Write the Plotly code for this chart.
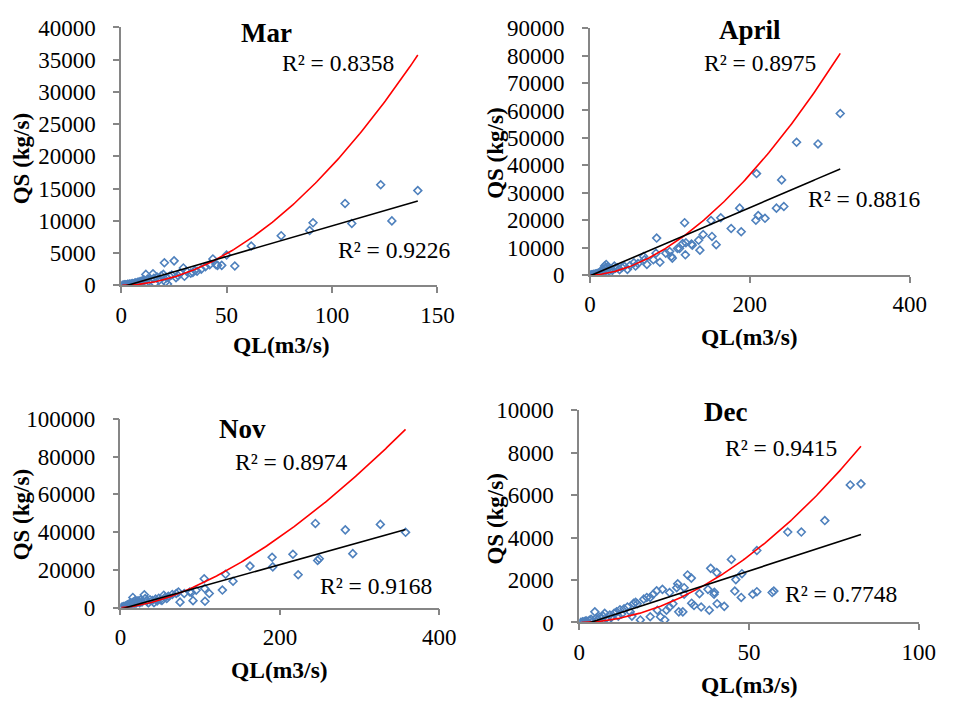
import numpy as np
import plotly.graph_objects as go

# ---------------- data ----------------
mar_ql = [0.5, 1, 1.5, 2, 2.5, 3, 3.5, 4, 4.5, 5, 5.5, 6, 6.5, 7, 7.5, 8, 8.5, 9, 9.5, 10, 10.5, 11,
          11.7, 12.5, 13, 14, 15.1, 15.5, 16, 17, 18, 19, 20, 20.5, 21, 21.5, 22, 23, 24, 25.1, 26, 27,
          28, 29.5, 30, 31, 33, 34, 35, 36, 38, 40, 42, 43.5, 45, 45.7, 47.7, 50, 53.9, 61.7, 75.9,
          89.4, 91, 106.2, 109.4, 123.1, 128.4, 140.7]
mar_qs = [20, 50, 80, 100, 60, 150, 120, 200, 180, 250, 300, 200, 350, 400, 300, 500, 450, 600, 400, 700, 550, 800,
          1700, 1000, 600, 900, 1800, 1100, 300, 1300, 800, 1500, 1700, 3500, 500, 1200, 200, 1400, 1600, 3800, 1200, 1500,
          1900, 2700, 1400, 2200, 1900, 2000, 2300, 2200, 2500, 2900, 3200, 4100, 3200, 3100, 3100, 4700, 3000, 6100, 7700,
          8500, 9700, 12700, 9600, 15600, 10000, 14700]

apr_ql = [1, 2, 3, 4, 5, 6, 7, 8, 9, 10, 11, 12, 13, 14, 15, 16, 17, 18.3, 19, 20.3, 21, 22, 24, 26, 28, 30.5,
          32, 34.6, 37, 40, 43, 46.8, 50, 55, 57, 60, 67.1, 68, 71.2, 79.3, 82.6, 83.4, 87.5, 94.8, 99.7, 101.8,
          103, 109.5, 112, 116, 118.4, 119.3, 120, 127, 128, 135.9, 137.5, 141.6, 151.4, 152.6, 157.9, 163.6,
          176.6, 187.2, 189.2, 207.5, 208.3, 210.4, 218.9, 233.2, 239.7, 242.5, 258.4, 285.2, 313]
apr_qs = [50, 100, 80, 200, 300, 250, 400, 500, 350, 700, 600, 900, 1200, 800, 1500, 2100, 1000, 3300, 2500, 3900,
          1800, 3000, 1500, 2200, 1700, 3300, 2500, 2700, 2000, 2800, 3200, 2100, 3500, 4500, 3300, 4200, 6800, 5600,
          3900, 5600, 8000, 13500, 4700, 8000, 8600, 6800, 6200, 9700, 9700, 11500, 19100, 7400, 11800, 11300, 10900,
          12700, 9100, 14800, 19900, 14100, 11100, 20900, 17000, 24400, 15800, 20000, 37000, 21700, 20700, 24400,
          34700, 25000, 48400, 47800, 58900]

nov_ql = [1, 2, 3, 4, 5, 6, 7, 8, 9, 10, 11, 12, 13, 14, 15.5, 16, 17, 18, 19, 20, 22, 24, 25, 27, 29.9, 31, 33,
          35, 37, 40, 42, 44, 46, 48, 50, 52, 54.3, 56, 58, 60, 65, 70, 72.7, 74.7, 80, 87, 89, 91, 95, 105,
          105.7, 106, 111.4, 127.8, 131.8, 141.2, 162.4, 190.2, 191, 216.3, 222.9, 244.5, 247.3, 249.4, 282,
          291.4, 326, 357.6]
nov_qs = [100, 300, 200, 600, 500, 900, 700, 1200, 1500, 1000, 2000, 1600, 2500, 1800, 5400, 3000, 2200, 3500,
          2000, 2800, 3600, 2500, 4000, 3000, 6800, 4800, 3500, 2500, 4200, 3800, 2600, 4500, 3500, 5000, 4200,
          3800, 6600, 5500, 4800, 6000, 7000, 7500, 8300, 2900, 7500, 8300, 8000, 3700, 9200, 15300, 10100, 3400,
          7500, 9300, 17700, 14000, 22000, 26700, 21600, 28300, 17400, 44600, 25000, 25900, 41200, 28600, 44100,
          39900]

dec_ql = [0.5, 1, 1.5, 2, 2.5, 3, 3.5, 4, 4.6, 5, 5.5, 6, 6.5, 7, 7.5, 8, 8.5, 9, 9.5, 10.3, 11, 11.5, 12, 12.5,
          13.2, 14.2, 15, 15.5, 16, 16.6, 17.1, 18, 19, 19.9, 20.9, 20.9, 21.8, 22.8, 23, 23.9, 24.5, 25.2, 25.7,
          26.6, 26.6, 27.6, 28.7, 29, 29.3, 30.5, 30.9, 30.9, 31.9, 33, 33.1, 33.8, 35.4, 35.9, 37.9, 38.3, 38.7,
          39.7, 39.8, 40.5, 40.6, 42.7, 44.8, 45.8, 46.1, 47.7, 47.9, 51.1, 52.3, 52.3, 56.8, 57.3, 61.4, 65.4,
          72.3, 79.8, 82.95]
dec_qs = [10, 30, 50, 80, 40, 100, 150, 60, 500, 200, 120, 250, 180, 300, 430, 200, 100, 350, 250, 430, 500, 300,
          600, 400, 650, 730, 500, 300, 900, 950, 880, 120, 1100, 1180, 270, 1180, 1330, 1490, 580, 270, 1560, 120,
          580, 1410, 730, 880, 1640, 1820, 500, 500, 1640, 1330, 2240, 2090, 910, 800, 1360, 730, 1560, 580, 2550,
          1330, 1420, 2350, 880, 760, 2970, 1480, 2020, 1180, 2300, 1330, 1450, 3390, 1410, 1480, 4260, 4260, 4800,
          6480, 6530]

# trendline coefficients: power QS = a*QL^b, linear QS = m*QL + c
mar_power = [2.68, 1.92]
mar_linear = [95.0, -275.0]
apr_power = [3.11, 1.769]
apr_linear = [124.6, -300.0]
nov_power = [8.23, 1.59]
nov_linear = [118.0, -800.0]
dec_power = [1.757, 1.915]
dec_linear = [52.0, -170.0]

titles = ["Mar", "April", "Nov", "Dec"]
r2_power = ["R² = 0.8358", "R² = 0.8975", "R² = 0.8974", "R² = 0.9415"]
r2_linear = ["R² = 0.9226", "R² = 0.8816", "R² = 0.9168", "R² = 0.7748"]
x_ranges = [[0, 150], [0, 400], [0, 400], [0, 100]]
x_dticks = [50, 200, 200, 50]
y_ranges = [[0, 40000], [0, 90000], [0, 100000], [0, 10000]]
y_dticks = [5000, 10000, 20000, 2000]

W, H = 959, 712
FONT = '"Liberation Serif", "Times New Roman", serif'
BLUE = "#4F81BD"
AXC = "#868686"

def px(x):
    return x / W

def py(y):
    return 1 - y / H

# plot-area rectangles in pixels: (left, right, top, bottom)
rects = [(118, 442, 16, 283.3), (598.3, 926, 16.7, 272.7),
         (117.3, 444, 421.7, 617.3), (587.3, 935.3, 412.7, 632.7)]
title_pos = [(267, 22), (762, 19), (242, 432), (737, 415)]
r2p_pos = [(340, 53), (773, 53), (293, 466), (794, 452)]
r2l_pos = [(398, 247), (880, 194), (379, 595), (856, 603)]
ytitle_pos = [(16, 152), (502, 146), (16, 521), (502, 525)]
xtitle_pos = [(282, 345), (762, 337), (280, 682), (762, 698)]

qls = [mar_ql, apr_ql, nov_ql, dec_ql]
qss = [mar_qs, apr_qs, nov_qs, dec_qs]
powers = [mar_power, apr_power, nov_power, dec_power]
linears = [mar_linear, apr_linear, nov_linear, dec_linear]

fig = go.Figure()
annotations = []
for i in range(4):
    xa = "x" if i == 0 else f"x{i+1}"
    ya = "y" if i == 0 else f"y{i+1}"
    ql = np.array(qls[i], dtype=float)
    qs = np.array(qss[i], dtype=float)
    fig.add_trace(go.Scatter(x=ql, y=qs, mode="markers", xaxis=xa, yaxis=ya,
                             marker=dict(symbol="diamond-open", size=6, color=BLUE,
                                         line=dict(width=1.6, color=BLUE)),
                             showlegend=False))
    xs = np.linspace(ql.min(), ql.max(), 200)
    a, b = powers[i]
    fig.add_trace(go.Scatter(x=xs, y=a * xs ** b, mode="lines", xaxis=xa, yaxis=ya,
                             line=dict(color="#FF0000", width=1.6), showlegend=False))
    m, c = linears[i]
    fig.add_trace(go.Scatter(x=xs, y=m * xs + c, mode="lines", xaxis=xa, yaxis=ya,
                             line=dict(color="#000000", width=1.6), showlegend=False))

    l, r, t, btm = rects[i]
    common = dict(showgrid=False, zeroline=False, showline=True, linecolor=AXC, linewidth=1.5,
                  ticks="outside", ticklen=6, tickcolor=AXC, tickwidth=1.5,
                  tickfont=dict(family=FONT, size=23, color="#000000"))
    fig.layout[f"xaxis{'' if i == 0 else i+1}"] = dict(
        domain=[px(l), px(r)], range=x_ranges[i], dtick=x_dticks[i], tick0=0,
        anchor=ya, ticklabelstandoff=2, **common)
    fig.layout[f"yaxis{'' if i == 0 else i+1}"] = dict(
        domain=[py(btm), py(t)], range=y_ranges[i], dtick=y_dticks[i], tick0=0,
        tickformat="d", anchor=xa, ticklabelstandoff=13, **common)

    annotations.append(dict(text=f"<b>{titles[i]}</b>", x=px(title_pos[i][0]), y=py(title_pos[i][1]),
                            xref="paper", yref="paper", showarrow=False, xanchor="center", yanchor="middle",
                            font=dict(family=FONT, size=27, color="#000000")))
    annotations.append(dict(text=r2_power[i], x=px(r2p_pos[i][0]), y=py(r2p_pos[i][1]),
                            xref="paper", yref="paper", showarrow=False, xanchor="center", yanchor="middle",
                            font=dict(family=FONT, size=23.5, color="#000000")))
    annotations.append(dict(text=r2_linear[i], x=px(r2l_pos[i][0]), y=py(r2l_pos[i][1]),
                            xref="paper", yref="paper", showarrow=False, xanchor="center", yanchor="middle",
                            font=dict(family=FONT, size=23.5, color="#000000")))
    annotations.append(dict(text="<b>QS (kg/s)</b>", x=px(ytitle_pos[i][0]), y=py(ytitle_pos[i][1]),
                            xref="paper", yref="paper", showarrow=False, xanchor="center", yanchor="middle",
                            textangle=-90, font=dict(family=FONT, size=23, color="#000000")))
    annotations.append(dict(text="<b>QL(m3/s)</b>", x=px(xtitle_pos[i][0]), y=py(xtitle_pos[i][1]),
                            xref="paper", yref="paper", showarrow=False, xanchor="center", yanchor="middle",
                            font=dict(family=FONT, size=23.5, color="#000000")))

fig.update_layout(width=W, height=H, margin=dict(l=0, r=0, t=0, b=0), autosize=False,
                  paper_bgcolor="white", plot_bgcolor="white", annotations=annotations)
fig.write_html("out.html",
               post_script="document.body.style.margin='0px';document.body.style.padding='0px';"
                           "document.body.style.overflow='hidden';")
